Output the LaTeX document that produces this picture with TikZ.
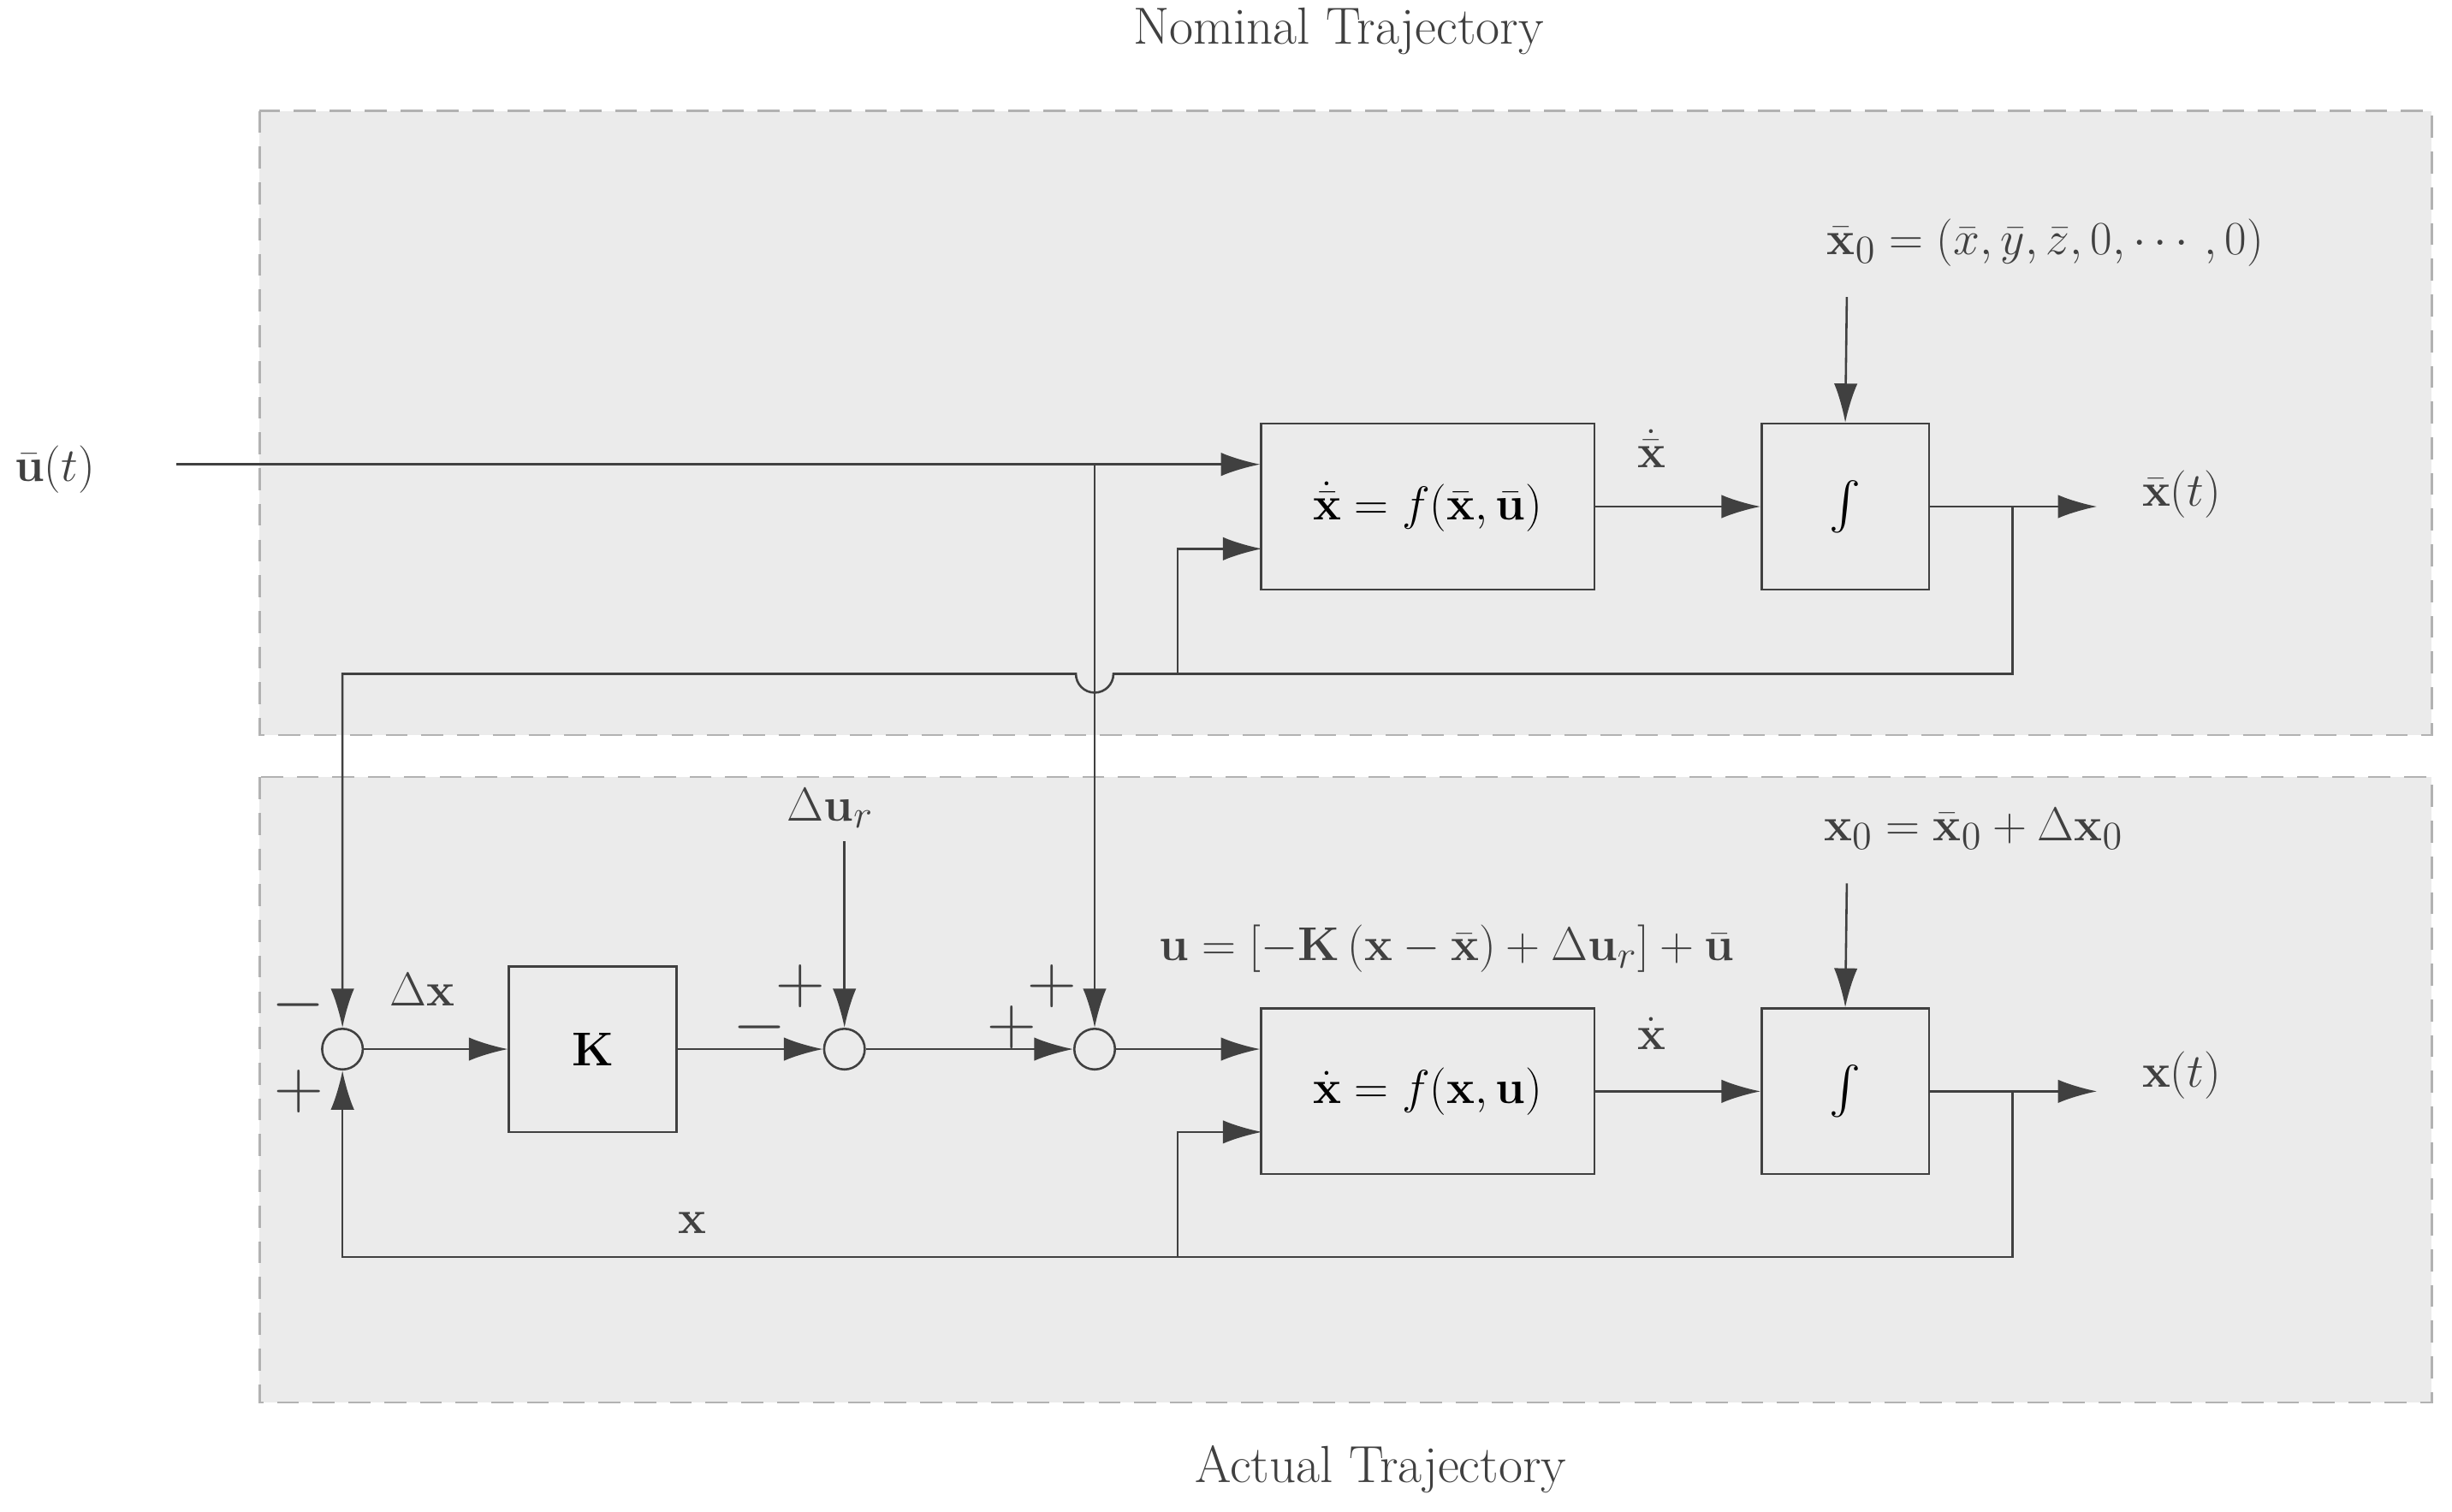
\documentclass[tikz,border=0pt]{standalone}
\usepackage{amsmath,bm}
\usetikzlibrary{arrows.meta}
\begin{document}
\begin{tikzpicture}
  [x=0.02cm,y=-0.02cm,
   font=\fontsize{19}{23}\selectfont,
   line/.style={draw=black!75,thick},
   arr/.style={line,-{Latex[length=0.5cm,width=0.3cm]}},
   block/.style={draw=black!75,thick,minimum width=4.26cm,minimum height=2.12cm},
   integ/.style={block,minimum width=2.14cm},
   sumN/.style={circle,draw=black!75,thick,minimum size=0.52cm,inner sep=0pt},
   region/.style={fill=black!8,draw=black!30,thick,dash pattern=on 8pt off 5pt},
   lbl/.style={text=black!75}]

  \useasboundingbox (0,0) rectangle (1568,967);
  \path[region] (166,71) rectangle (1555,470);
  \path[region] (166,497) rectangle (1555,897);

  \node[lbl] (titleN) at (856,20)  {Nominal Trajectory};
  \node[lbl] (titleA) at (883,940) {Actual Trajectory};

  % nominal trajectory
  \node[lbl] (ubar) at (35,300) {$\bar{\mathbf{u}}(t)$};
  \coordinate (ustart) at (113,297);
  \node[block] (fnom) at (913,324) {$\dot{\bar{\mathbf{x}}} = f(\bar{\mathbf{x}},\bar{\mathbf{u}})$};
  \node[integ] (inom) at (1180,324) {$\int$};
  \node[lbl] (x0nom) at (1308,155) {$\bar{\mathbf{x}}_0 = (\bar{x},\bar{y},\bar{z},0,\cdots,0)$};
  \node[lbl] (xbar) at (1395,316) {$\bar{\mathbf{x}}(t)$};
  \node[lbl] (xbardot) at (1056,287) {$\dot{\bar{\mathbf{x}}}$};
  \coordinate (xbarend) at (1341,324);
  \coordinate (bnom) at (1287,324);
  \coordinate (fbnom) at (753,431);

  \draw[arr] (ustart) -- (fnom.west |- ustart);
  \draw[arr] (fnom) -- (inom);
  \draw[arr] (1181,190) -- (inom.north);
  \draw[arr] (inom) -- (xbarend);
  \draw[arr] (bnom) |- (fbnom) |- (807,351);

  % actual trajectory
  \node[sumN] (s1) at (219,671) {};
  \node[block,minimum width=2.14cm] (K) at (379,671) {$\mathbf{K}$};
  \node[sumN] (s2) at (540,671) {};
  \node[sumN] (s3) at (700,671) {};
  \node[block] (fact) at (913,698) {$\dot{\mathbf{x}} = f(\mathbf{x},\mathbf{u})$};
  \node[integ] (iact) at (1180,698) {$\int$};
  \node[lbl] (dur) at (531,517) {$\Delta\mathbf{u}_r$};
  \node[lbl] (x0act) at (1262,530) {$\mathbf{x}_0 = \bar{\mathbf{x}}_0 + \Delta\mathbf{x}_0$};
  \node[lbl] (xact) at (1395,688) {$\mathbf{x}(t)$};
  \node[lbl] (xdot) at (1056,661) {$\dot{\mathbf{x}}$};
  \node[lbl] (ulaw) at (925,607) {$\mathbf{u} = [-\mathbf{K}\,(\mathbf{x}-\bar{\mathbf{x}}) + \Delta\mathbf{u}_r] + \bar{\mathbf{u}}$};
  \node[lbl] (dx) at (270,633) {$\Delta\mathbf{x}$};
  \node[lbl] (xfb) at (443,782) {$\mathbf{x}$};
  \coordinate (xend) at (1341,698);
  \coordinate (bact) at (1287,698);
  \coordinate (fbact) at (753,804);

  \node[lbl,font=\fontsize{26}{28}\selectfont] at (191,643) {$-$};
  \node[lbl,font=\fontsize{26}{28}\selectfont] at (191,698) {$+$};
  \node[lbl,font=\fontsize{26}{28}\selectfont] at (486,657) {$-$};
  \node[lbl,font=\fontsize{26}{28}\selectfont] at (512,631) {$+$};
  \node[lbl,font=\fontsize{26}{28}\selectfont] at (647,657) {$+$};
  \node[lbl,font=\fontsize{26}{28}\selectfont] at (673,631) {$+$};

  \draw[arr] (s1) -- (K);
  \draw[arr] (K) -- (s2);
  \draw[arr] (540,538) -- (s2);
  \draw[arr] (s2) -- (s3);
  \draw[arr] (s3) -- (fact.west |- s3);
  \draw[arr] (fact) -- (iact);
  \draw[arr] (1181,565) -- (iact.north);
  \draw[arr] (iact) -- (xend);
  \draw[arr] (bact) |- (fbact) |- (807,724);
  \draw[arr] (fbact) -| (s1);

  % nominal state fed down, reference input fed down with hop
  \draw[arr] (fbnom) -- (712,431) arc (0:180:12) -- (219,431) -- (s1);
  \draw[arr] (700,297) -- (s3);
\end{tikzpicture}
\end{document}
